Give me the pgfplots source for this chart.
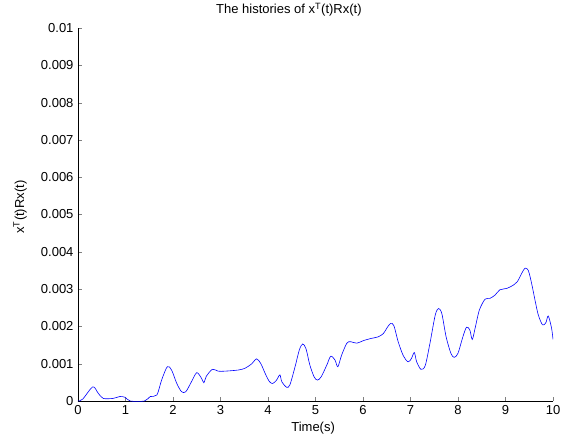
\documentclass[border=0pt]{standalone}
\usepackage{pgfplots}
\pgfplotsset{compat=1.18}
\usepackage{fontspec}
\setmainfont{Liberation Sans}
\begin{document}
\begin{tikzpicture}
\useasboundingbox (-78pt,-44pt) rectangle (492pt,401pt);
\begin{axis}[
  at={(0,0)}, anchor=south west,
  scale only axis,
  width=475pt, height=373pt,
  xmin=0, xmax=10, ymin=0, ymax=0.01,
  axis x line*=bottom, axis y line*=left,
  tick align=inside,
  major tick length=4pt,
  xtick={0,1,...,10},
  ytick={0,0.001,0.002,0.003,0.004,0.005,0.006,0.007,0.008,0.009,0.01},
  yticklabels={0,0.001,0.002,0.003,0.004,0.005,0.006,0.007,0.008,0.009,0.01},
  scaled y ticks=false,
  /pgf/number format/assume math mode=true,
  font=\fontsize{13}{15}\selectfont,
  title={The histories of x\textsuperscript{T}(t)Rx(t)},
  title style={at={(axis description cs:0.444,1)}, anchor=base, yshift=8pt},
  xlabel={Time(s)},
  ylabel={x\textsuperscript{T}(t)Rx(t)},
  xlabel style={at={(axis description cs:0.495,0)}, anchor=north, yshift=-18pt},
  ylabel style={at={(axis description cs:-0.122,0.52)}, anchor=center},
  xticklabel style={yshift=-1pt},
  yticklabel style={xshift=-1pt},
]
\addplot[color=blue, line width=0.6pt, smooth, tension=0.5] coordinates {
(0,0) (0.1,0.00005) (0.31,0.00038) (0.42,0.00022) (0.53,0.00007) (0.74,0.00007)
(0.88,0.00012) (0.99,0.0001) (1.1,0.0) (1.4,0.0) (1.52,0.00012) (1.66,0.00016)
(1.76,0.00056) (1.88,0.00092) (1.97,0.00083) (2.08,0.00047) (2.18,0.00025)
(2.27,0.00025) (2.39,0.00052) (2.5,0.00076) (2.6,0.00061) (2.65,0.00049)
(2.7,0.00066) (2.83,0.00085) (2.95,0.0008) (3.09,0.0008) (3.37,0.00083)
(3.52,0.00088) (3.66,0.001) (3.76,0.00113) (3.85,0.001) (3.94,0.00074)
(4.03,0.00052) (4.1,0.00047) (4.18,0.00056) (4.25,0.0007) (4.29,0.00052)
(4.39,0.00037) (4.46,0.00043) (4.57,0.00092) (4.66,0.00137) (4.73,0.00153)
(4.8,0.0014) (4.88,0.00097) (4.97,0.00065) (5.04,0.00056) (5.12,0.00065)
(5.24,0.00097) (5.32,0.0012) (5.41,0.0011) (5.47,0.00092) (5.55,0.00123)
(5.66,0.00155) (5.74,0.00159) (5.87,0.00155) (6.01,0.00162) (6.18,0.00168)
(6.32,0.00172) (6.43,0.00181) (6.5,0.00195) (6.58,0.00208) (6.65,0.00202)
(6.74,0.00159) (6.85,0.00121) (6.95,0.00105) (7.02,0.00114) (7.08,0.0013)
(7.13,0.00105) (7.22,0.00085) (7.31,0.00095) (7.41,0.00155) (7.52,0.0023)
(7.59,0.00248) (7.66,0.00234) (7.75,0.00172) (7.85,0.00128) (7.92,0.00117)
(8.0,0.00128) (8.1,0.00171) (8.18,0.00198) (8.25,0.0019) (8.3,0.00165)
(8.36,0.00195) (8.45,0.00244) (8.57,0.00273) (8.67,0.00275) (8.78,0.00284)
(8.88,0.00298) (9.03,0.00302) (9.17,0.00311) (9.25,0.0032) (9.34,0.00342)
(9.41,0.00356) (9.48,0.0035) (9.55,0.00315) (9.62,0.00271) (9.69,0.00231)
(9.78,0.00204) (9.85,0.0021) (9.9,0.00228) (9.97,0.00195) (10,0.00165)
};
\end{axis}
\end{tikzpicture}
\end{document}
